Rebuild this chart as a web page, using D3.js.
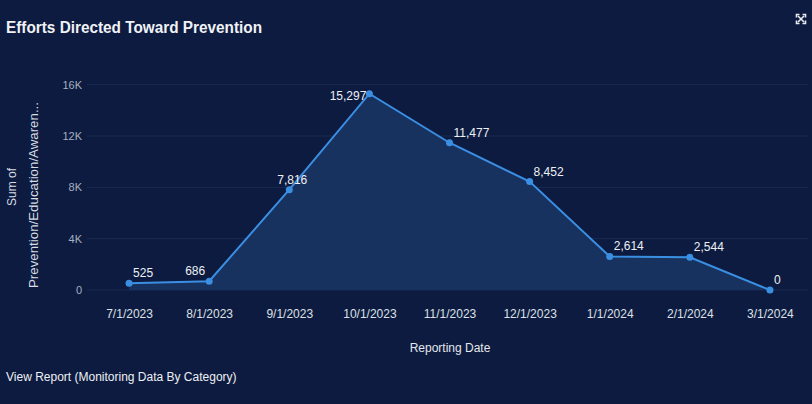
<!DOCTYPE html>
<html>
<head>
<meta charset="utf-8">
<script src="https://cdn.jsdelivr.net/npm/d3@7"></script>
<style>
  html, body { margin: 0; padding: 0; background: #0c1b3f; }
  svg { display: block; font-family: "Liberation Sans", Arial, sans-serif; }
</style>
</head>
<body>
<script>
const dates = ["7/1/2023", "8/1/2023", "9/1/2023", "10/1/2023", "11/1/2023",
  "12/1/2023", "1/1/2024", "2/1/2024", "3/1/2024"];
const values = [525, 686, 7816, 15297, 11477, 8452, 2614, 2544, 0];
const labelSide = ["right", "left", "center", "west", "right", "right", "right", "right", "right"];
const yTicks = [0, 4000, 8000, 12000, 16000];
const yTickLabels = ["0", "4K", "8K", "12K", "16K"];

const W = 812, H = 404;
const bg = "#0c1b3f", lineColor = "#3b8fe3", areaColor = "#17325f";

const svg = d3
  .select("body")
  .append("svg")
  .attr("width", W)
  .attr("height", H);

svg.append("rect").attr("width", W).attr("height", H).attr("fill", bg);

// title
svg
  .append("text")
  .attr("x", 6)
  .attr("y", 33)
  .attr("fill", "#f0f2f6")
  .attr("font-size", 16)
  .attr("font-weight", "bold")
  .attr("textLength", 256)
  .attr("lengthAdjust", "spacingAndGlyphs")
  .text("Efforts Directed Toward Prevention");

// expand icon, top right
const icon = svg.append("g").attr("transform", "translate(801,19)")
  .attr("stroke", "#e8ebf0").attr("stroke-width", 1.6).attr("fill", "none");
icon.append("path").attr("d", "M-3,-3L3,3M3,-3L-3,3");
[[-1, -1], [1, -1], [1, 1], [-1, 1]].forEach(function (s) {
  icon
    .append("path")
    .attr("d", "M" + 4.5 * s[0] + "," + 1.5 * s[1] + "L" + 4.5 * s[0] + "," + 4.5 * s[1] + "L" + 1.5 * s[0] + "," + 4.5 * s[1]);
});

const x = d3.scalePoint().domain(dates).range([89, 810]).padding(0.5);
const y = d3.scaleLinear().domain([0, 16000]).range([290, 84.7]);

// gridlines
svg
  .append("g")
  .selectAll("line")
  .data(yTicks)
  .join("line")
  .attr("x1", 87)
  .attr("x2", 808)
  .attr("y1", (d) => y(d))
  .attr("y2", (d) => y(d))
  .attr("stroke", "#1b2b52")
  .attr("stroke-width", 1);

// y axis
const yAxis = svg
  .append("g")
  .attr("transform", "translate(82,0)")
  .call(d3.axisLeft(y).tickValues(yTicks).tickSize(0).tickPadding(0)
    .tickFormat((d, i) => yTickLabels[i]));
yAxis.select(".domain").remove();
yAxis.selectAll("text")
  .attr("fill", "#a7afc0")
  .attr("font-size", 11)
  .attr("font-family", "Liberation Sans, Arial, sans-serif");

// x axis
const xAxis = svg
  .append("g")
  .attr("transform", "translate(0,290)")
  .call(d3.axisBottom(x).tickSize(0).tickPadding(19));
xAxis.select(".domain").remove();
xAxis.selectAll("text")
  .attr("fill", "#dde0e6")
  .attr("font-size", 12)
  .attr("font-family", "Liberation Sans, Arial, sans-serif");

// axis titles
svg
  .append("text")
  .attr("x", 450)
  .attr("y", 352)
  .attr("text-anchor", "middle")
  .attr("fill", "#e4e7ec")
  .attr("font-size", 12)
  .text("Reporting Date");

svg
  .append("text")
  .attr("transform", "translate(16,187) rotate(-90)")
  .attr("text-anchor", "middle")
  .attr("fill", "#d8dce4")
  .attr("font-size", 12)
  .text("Sum of");

svg
  .append("text")
  .attr("transform", "translate(38,195) rotate(-90)")
  .attr("text-anchor", "middle")
  .attr("fill", "#d8dce4")
  .attr("font-size", 12)
  .attr("textLength", 186)
  .attr("lengthAdjust", "spacingAndGlyphs")
  .text("Prevention/Education/Awaren...");

// area + line
svg
  .append("path")
  .datum(values)
  .attr("fill", areaColor)
  .attr("d", d3.area()
    .x((d, i) => x(dates[i]))
    .y0(y(0))
    .y1((d) => y(d)));

svg
  .append("path")
  .datum(values)
  .attr("fill", "none")
  .attr("stroke", lineColor)
  .attr("stroke-width", 2)
  .attr("d", d3.line()
    .x((d, i) => x(dates[i]))
    .y((d) => y(d)));

svg
  .append("g")
  .selectAll("circle")
  .data(values)
  .join("circle")
  .attr("cx", (d, i) => x(dates[i]))
  .attr("cy", (d) => y(d))
  .attr("r", 3.5)
  .attr("fill", lineColor);

// data labels
const fmt = d3.format(",");
svg
  .append("g")
  .selectAll("text")
  .data(values)
  .join("text")
  .attr("x", function (d, i) {
    const s = labelSide[i];
    if (s == "right") return x(dates[i]) + 4;
    if (s == "left") return x(dates[i]) - 4;
    if (s == "west") return x(dates[i]) - 3;
    return x(dates[i]) + 3;
  })
  .attr("y", (d, i) => labelSide[i] == "west" ? y(d) + 6 : y(d) - 6)
  .attr("text-anchor", function (d, i) {
    const s = labelSide[i];
    if (s == "right") return "start";
    if (s == "center") return "middle";
    return "end";
  })
  .attr("fill", "#eef0f4")
  .attr("font-size", 12)
  .text((d) => fmt(d));

// footer link
svg
  .append("text")
  .attr("x", 6)
  .attr("y", 381)
  .attr("fill", "#eef0f4")
  .attr("font-size", 12)
  .text("View Report (Monitoring Data By Category)");
</script>
</body>
</html>
